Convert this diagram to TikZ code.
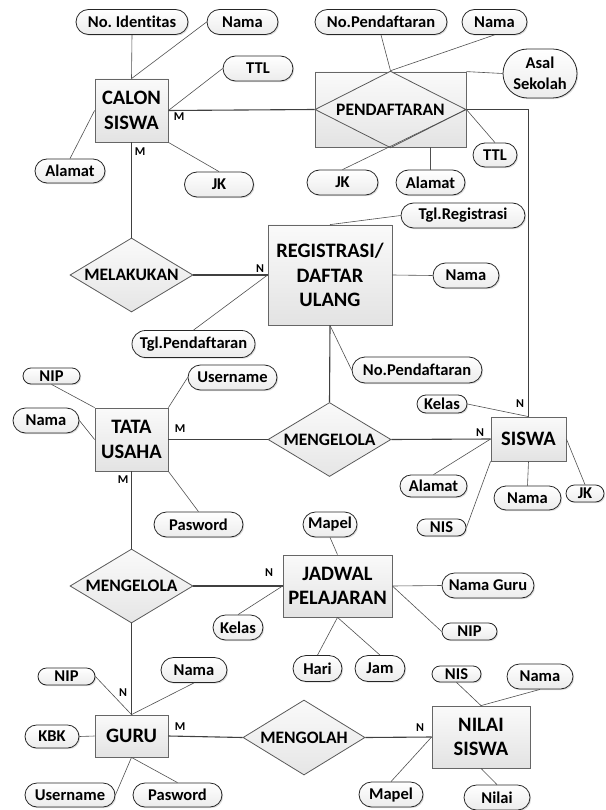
\documentclass[tikz,border=0pt]{standalone}
\usepackage{fontspec}
\setmainfont{Carlito}[Ligatures=NoCommon]
\frenchspacing
\usetikzlibrary{shapes.geometric,shapes.misc,shadows}
\definecolor{rel}{HTML}{404040}
\definecolor{att}{HTML}{505050}
\tikzset{
  shd/.style={drop shadow={shadow xshift=1.2pt, shadow yshift=-1.2pt, fill=gray!45, opacity=0.6}},
  ent/.style={draw=gray!80!black, line width=0.8pt, rectangle, inner sep=0pt, align=center, shd,
    top color=gray!4, bottom color=gray!22, font=\fontsize{20.5}{24.5}\selectfont\bfseries},
  relbox/.style={draw=gray!70!black, line width=0.8pt, diamond, inner sep=0pt, aspect=1.66,
    top color=gray!4, bottom color=gray!20, font=\fontsize{17.5}{20}\selectfont\bfseries},
  attr/.style={draw=black!85, line width=0.8pt, rounded rectangle, inner sep=0pt, align=center, shd,
    top color=white, bottom color=gray!15, font=\fontsize{16.5}{20.5}\selectfont\bfseries},
  rl/.style={draw=rel, line width=1.1pt},
  al/.style={draw=att, line width=0.6pt},
  card/.style={font=\fontsize{12}{12}\selectfont\bfseries, inner sep=0pt},
  sz/.style 2 args={minimum width=#1pt, minimum height=#2pt},
}
\begin{document}
\begin{tikzpicture}[x=1pt,y=-1pt]
\useasboundingbox (0,0) rectangle (605,810);
% entities
\node[ent, sz={73}{63}] (calon) at (131.5,110.5) {CALON\\SISWA};
\node[ent, sz={151}{75}] (pend) at (390.5,109.5) {};
\node[relbox, sz={151}{75}] (pendd) at (390.5,109.5) {PENDAFTARAN};
\node[ent, sz={124}{100}] (reg) at (330,275) {REGISTRASI/\\DAFTAR\\ULANG};
\node[ent, sz={73}{63}] (tu) at (131.5,439.5) {TATA\\USAHA};
\node[ent, sz={75}{44}] (siswa) at (528.5,439) {SISWA};
\node[ent, sz={109}{62}] (jadwal) at (337.5,586) {JADWAL\\PELAJARAN};
\node[ent, sz={73}{42}] (guru) at (131.5,736) {GURU};
\node[ent, sz={98}{62}] (nilai) at (481,737) {NILAI\\SISWA};
% relationships
\node[relbox, sz={123}{74}] (melakukan) at (131.5,275) {MELAKUKAN};
\node[relbox, sz={123}{74}] (kelola1) at (329.5,439.5) {MENGELOLA};
\node[relbox, sz={123}{74}] (kelola2) at (131.5,586) {MENGELOLA};
\node[relbox, sz={122}{75}] (olah) at (304,737.5) {MENGOLAH};
% attributes
\node[attr, sz={112}{25}] (a1) at (132,22) {No. Identitas};
\node[attr, sz={71}{25}] (a2) at (242.5,22) {Nama};
\node[attr, sz={70}{25}] (a3) at (258,68.5) {TTL};
\node[attr, sz={70}{24}] (a4) at (70,171) {Alamat};
\node[attr, sz={69}{25}] (a5) at (219,184.5) {JK};
\node[attr, sz={132}{25}] (p1) at (381,22) {No.Pendaftaran};
\node[attr, sz={65}{25}] (p2) at (494.5,22) {Nama};
\node[attr, sz={74}{49}] (p3) at (540,73.5) {Asal\\Sekolah};
\node[attr, sz={44}{24}] (p4) at (495,155) {TTL};
\node[attr, sz={71}{25}] (p5) at (342.5,182.5) {JK};
\node[attr, sz={69}{25}] (p6) at (430.5,182.5) {Alamat};
\node[attr, sz={124}{25}] (r1) at (463,215.5) {Tgl.Registrasi};
\node[attr, sz={66}{25}] (r2) at (466,275.5) {Nama};
\node[attr, sz={130}{26}] (r3) at (417,370) {No.Pendaftaran};
\node[attr, sz={123}{27}] (r4) at (193.5,344) {Tgl.Pendaftaran};
\node[attr, sz={57}{16}] (t1) at (51.5,376) {NIP};
\node[attr, sz={89}{25}] (t2) at (232.5,377.5) {Username};
\node[attr, sz={66}{25}] (t3) at (46,420.5) {Nama};
\node[attr, sz={89}{25}] (t4) at (198.5,524.5) {Pasword};
\node[attr, sz={50}{18}] (s1) at (442,404) {Kelas};
\node[attr, sz={67}{22}] (s2) at (433.5,486) {Alamat};
\node[attr, sz={67}{24}] (s3) at (527.5,498) {Nama};
\node[attr, sz={38}{17}] (s4) at (585,493.5) {JK};
\node[attr, sz={49}{17}] (s5) at (441.5,527.5) {NIS};
\node[attr, sz={54}{25}] (j1) at (330,524.5) {Mapel};
\node[attr, sz={92}{25}] (j2) at (488,585.5) {Nama Guru};
\node[attr, sz={55}{17}] (j3) at (469.5,631.5) {NIP};
\node[attr, sz={50}{25}] (j4) at (238,627.5) {Kelas};
\node[attr, sz={49}{26}] (j5) at (317.5,668.5) {Hari};
\node[attr, sz={50}{26}] (j6) at (380,668.5) {Jam};
\node[attr, sz={57}{17}] (g1) at (66.5,676.5) {NIP};
\node[attr, sz={66}{25}] (g2) at (194,670) {Nama};
\node[attr, sz={54}{23}] (g3) at (52,736.5) {KBK};
\node[attr, sz={90}{24}] (g4) at (70,795) {Username};
\node[attr, sz={89}{24}] (g5) at (177.5,795) {Pasword};
\node[attr, sz={49}{16}] (n1) at (456.5,674) {NIS};
\node[attr, sz={66}{25}] (n2) at (540,676.5) {Nama};
\node[attr, sz={64}{25}] (n3) at (391,794.5) {Mapel};
\node[attr, sz={66}{25}] (n4) at (497,797.5) {Nilai};
% relationship connectors
\draw[rl] (calon.east) -- (pendd.west);
\draw[rl] (pendd.east) -| (siswa.north);
\draw[rl] (calon.south) -- (melakukan.north);
\draw[rl] (melakukan.east) -- (melakukan.east -| reg.west);
\draw[rl] (reg.south) -- (kelola1.north);
\draw[rl] (tu.east) -- (kelola1.west);
\draw[rl] (kelola1.east) -- (siswa.west);
\draw[rl] (tu.south) -- (kelola2.north);
\draw[rl] (kelola2.east) -- (jadwal.west);
\draw[rl] (kelola2.south) -- (guru.north);
\draw[rl] (guru.east) -- (olah.west);
\draw[rl] (olah.east) -- (nilai.west);
% attribute connectors
\draw[al] (a1.south) -- (calon.north);
\draw[al] (a2.west) -- (calon.north);
\draw[al] (a3.west) -- (calon.east);
\draw[al] (a4.north) -- (calon.west);
\draw[al] (a5.north) -- (calon.south east);
\draw[al] (p1.south) -- (pendd.north);
\draw[al] (p2.south) -- (pendd.north);
\draw[al] (p3.west) -- (pend.north east);
\draw[al] (p4.north) -- (pendd.east);
\draw[al] (p5.north) -- (pendd.east);
\draw[al] (p6.north) -- (p6.north |- pend.south);
\draw[al] (r1.west) -- (reg.north);
\draw[al] (r2.west) -- (reg.east);
\draw[al] (r3.west) -- (reg.south);
\draw[al] (r4.north) -- (reg.west);
\draw[al] (t1.south) -- (tu.north west);
\draw[al] (t2.west) -- (tu.north east);
\draw[al] (t3.east) -- (tu.west);
\draw[al] (t4.north) -- (tu.south east);
\draw[al] (s1.east) -- (siswa.north);
\draw[al] (s2.north) -- (siswa.west);
\draw[al] (s3.north) -- (siswa.south);
\draw[al] (s4.north) -- (siswa.east);
\draw[al] (s5.east) -- (siswa.south west);
\draw[al] (j1.south) -- (jadwal.north);
\draw[al] (j2.west) -- (jadwal.east);
\draw[al] (j3.west) -- (jadwal.east);
\draw[al] (j4.north) -- (jadwal.west);
\draw[al] (j5.north) -- (jadwal.south);
\draw[al] (j6.north) -- (jadwal.south);
\draw[al] (g1.east) -- (guru.north);
\draw[al] (g2.south) -- (guru.north);
\draw[al] (g3.east) -- (guru.west);
\draw[al] (g4.east) -- (guru.south);
\draw[al] (g5.north) -- (guru.south);
\draw[al] (n1.south) -- (nilai.north);
\draw[al] (n2.south) -- (nilai.north);
\draw[al] (n3.north) -- (nilai.west);
\draw[al] (n4.north) -- (nilai.south);
% cardinalities
\node[card] (c1) at (179,117) {M};
\node[card] (c2) at (140,152) {M};
\node[card] (c3) at (260,269) {N};
\node[card] (c4) at (180,429) {M};
\node[card] (c5) at (123,480) {M};
\node[card] (c6) at (520,404) {N};
\node[card] (c7) at (480,433) {N};
\node[card] (c8) at (269,573) {N};
\node[card] (c9) at (123,693) {N};
\node[card] (c10) at (180,727) {M};
\node[card] (c11) at (420,728) {N};
\end{tikzpicture}
\end{document}
